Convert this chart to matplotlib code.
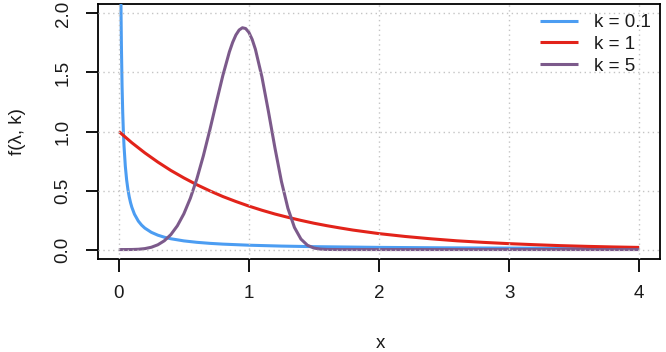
import matplotlib
matplotlib.use("Agg")
import matplotlib.pyplot as plt

plt.rcParams['font.family'] = ['Liberation Sans', 'DejaVu Sans']

# k = 0.1 curve
x_k01 = [0.01, 0.012, 0.015, 0.0175, 0.02, 0.025, 0.03, 0.035, 0.04, 0.05, 0.06,
         0.07, 0.08, 0.09, 0.1, 0.12, 0.15, 0.175, 0.2, 0.25, 0.3, 0.35, 0.4, 0.5,
         0.6, 0.7, 0.8, 1.0, 1.25, 1.5, 2.0, 2.5, 3.0, 3.5, 4.0]
y_k01 = [3.357, 2.816, 2.272, 1.957, 1.720, 1.385, 1.161, 0.999, 0.878, 0.706, 0.591,
         0.509, 0.447, 0.398, 0.359, 0.300, 0.241, 0.2072, 0.1817, 0.1458, 0.1218,
         0.1045, 0.0916, 0.0734, 0.0613, 0.0525, 0.0460, 0.0368, 0.0294, 0.0245,
         0.01835, 0.01466, 0.01219, 0.01043, 0.0091]

# k = 1 curve
x_k1 = [0.0, 0.1, 0.2, 0.3, 0.4, 0.5, 0.6, 0.7, 0.8, 0.9, 1.0, 1.1, 1.2, 1.3, 1.4,
        1.5, 1.6, 1.7, 1.8, 1.9, 2.0, 2.2, 2.4, 2.6, 2.8, 3.0, 3.2, 3.4, 3.6, 3.8, 4.0]
y_k1 = [1.000, 0.905, 0.819, 0.741, 0.670, 0.607, 0.549, 0.497, 0.449, 0.407, 0.368,
        0.333, 0.301, 0.273, 0.247, 0.223, 0.202, 0.183, 0.165, 0.150, 0.135,
        0.111, 0.091, 0.074, 0.061, 0.050, 0.041, 0.033, 0.027, 0.022, 0.018]

# k = 5 curve
x_k5 = [0.0, 0.05, 0.1, 0.15, 0.2, 0.25, 0.3, 0.35, 0.4, 0.45, 0.5, 0.55, 0.6, 0.65,
        0.7, 0.75, 0.8, 0.85, 0.875, 0.9, 0.925, 0.95, 0.975, 1.0, 1.025, 1.05, 1.1,
        1.15, 1.2, 1.25, 1.3, 1.35, 1.4, 1.45, 1.5, 1.55, 1.6, 1.7, 2.0, 2.5, 3.0,
        3.5, 4.0]
y_k5 = [0.0, 0.0000, 0.0005, 0.0025, 0.0080, 0.0195, 0.0404, 0.0746, 0.1267, 0.2013,
        0.3029, 0.4351, 0.5995, 0.7948, 1.0148, 1.2479, 1.4758, 1.6749, 1.7549, 1.8177,
        1.8598, 1.8787, 1.8723, 1.8394, 1.7803, 1.6962, 1.4627, 1.1701, 0.8613, 0.5770,
        0.3486, 0.1875, 0.0887, 0.0364, 0.0127, 0.0038, 0.0009, 0.0, 0.0, 0.0, 0.0,
        0.0, 0.0]

labels = ["k = 0.1", "k = 1", "k = 5"]
colors = ["#4C9DF2", "#E2231A", "#7C5A8B"]
xticks = [0, 1, 2, 3, 4]
yticks = [0.0, 0.5, 1.0, 1.5, 2.0]
ytick_labels = ["0.0", "0.5", "1.0", "1.5", "2.0"]

fs = 13.5
fig = plt.figure(figsize=(6.66, 3.52), dpi=100)
ax = fig.add_axes([98/666, 1 - 259/352, (660-98)/666, (259-4)/352])

lw = 2.2
series = [(x_k01, y_k01), (x_k1, y_k1), (x_k5, y_k5)]
for (xs, ys), c, lab in zip(series, colors, labels):
    ax.plot(xs, ys, color=c, lw=lw, label=lab, solid_capstyle='butt',
            solid_joinstyle='round', zorder=3)

ax.set_xlim(-0.16, 4.16)
ax.set_ylim(-0.08, 2.08)

for xv in xticks:
    ax.axvline(xv, color='#C4C4C4', lw=1.0, linestyle=(0, (1, 2.5)), zorder=10)
for yv in yticks:
    ax.axhline(yv, color='#C4C4C4', lw=1.0, linestyle=(0, (1, 2.5)), zorder=10)

ax.set_xticks(xticks)
ax.set_xticklabels([str(v) for v in xticks])
ax.set_yticks(yticks)
ax.set_yticklabels(ytick_labels, rotation=90, va='center')
ax.tick_params(axis='both', direction='out', length=9, width=1.3, labelsize=fs,
               color='black', labelcolor='#1a1a1a')
ax.tick_params(axis='x', pad=10)
ax.tick_params(axis='y', pad=10)
for sp in ax.spines.values():
    sp.set_linewidth(1.3)
    sp.set_color('black')

fig.text(380/666, 1 - 343/352, "x", ha='center', va='center', fontsize=fs, color='#1a1a1a')
fig.text(18/666, 1 - 132/352, "f(λ, k)", ha='center', va='center', rotation=90,
         fontsize=fs, color='#1a1a1a')

leg = ax.legend(loc='upper left', bbox_to_anchor=(540/666, 0.96),
                bbox_transform=fig.transFigure, frameon=False, fontsize=fs,
                handlelength=2.05, handletextpad=0.85, labelspacing=0.25,
                borderpad=0, borderaxespad=0)
for t in leg.get_texts():
    t.set_color('#1a1a1a')

fig.savefig("out.png", dpi=100)
